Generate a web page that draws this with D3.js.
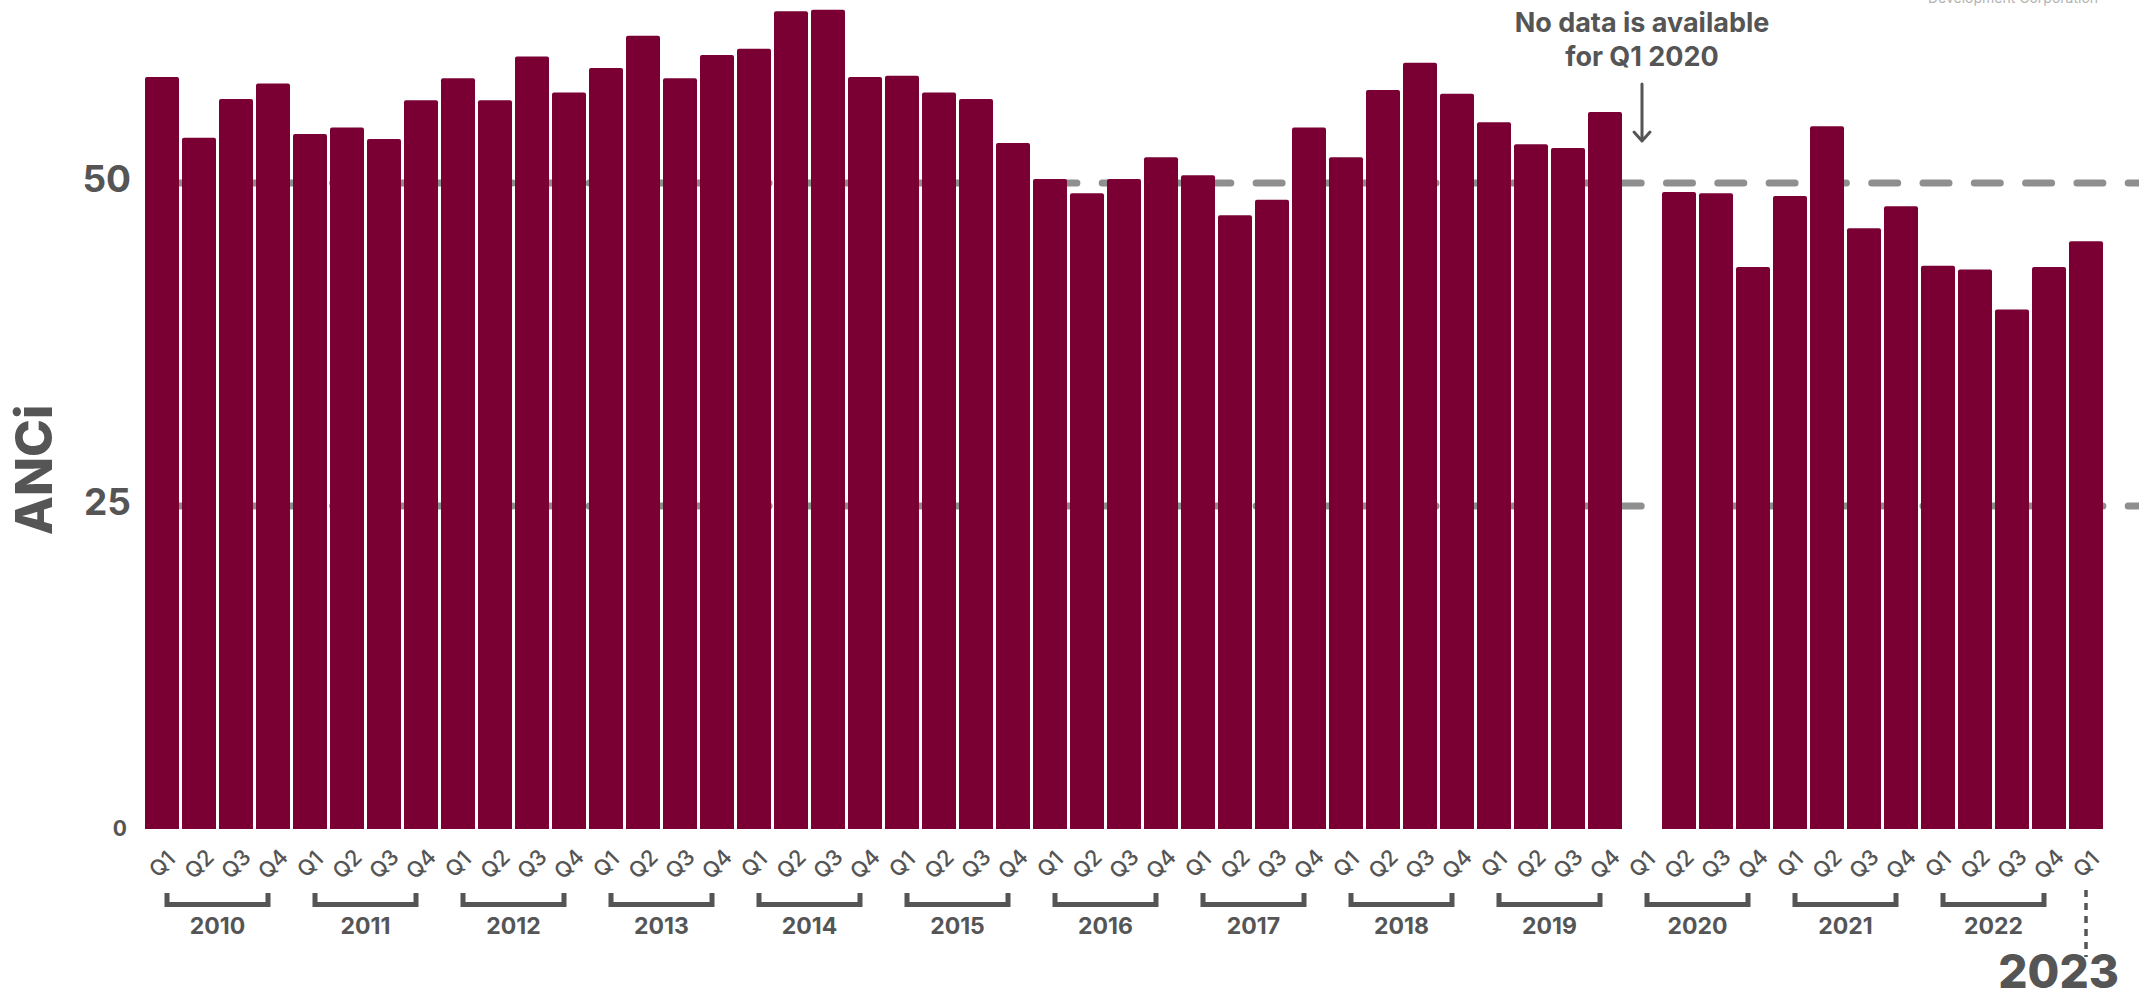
<!DOCTYPE html>
<html>
<head>
<meta charset="utf-8">
<script src="https://cdn.jsdelivr.net/npm/d3@7"></script>
<style>
  body { margin: 0; background: #fff; }
  svg { display: block; font-family: Inter, "Open Sans", sans-serif; }
</style>
</head>
<body>
<svg></svg>
<script>
const width = 2139;
const height = 1002;

// data
const years = [2010, 2011, 2012, 2013, 2014, 2015, 2016, 2017, 2018, 2019, 2020, 2021, 2022, 2023];
const quarters = ["Q1", "Q2", "Q3", "Q4"];
const values = [
    58.2, 53.5, 56.5, 57.7,   // 2010
    53.8, 54.3, 53.4, 56.4,   // 2011
    58.1, 56.4, 59.8, 57.0,   // 2012
    58.9, 61.4, 58.1, 59.9,   // 2013
    60.4, 63.3, 63.4, 58.2,   // 2014
    58.3, 57.0, 56.5, 53.1,   // 2015
    50.3, 49.2, 50.3, 52.0,   // 2016
    50.6, 47.5, 48.7, 54.3,   // 2017
    52.0, 57.2, 59.3, 56.9,   // 2018
    54.7, 53.0, 52.7, 55.5,   // 2019
    null, 49.3, 49.2, 43.5,   // 2020
    49.0, 54.4, 46.5, 48.2,   // 2021
    43.6, 43.3, 40.2, 43.5,   // 2022
    45.5                      // 2023
];
const yTicks = [0, 25, 50];
const gridValues = [25, 50];

const barColor = "#7a0034";
const textColor = "#555555";

// build rows year x quarter
let data = [];
years.forEach(y => quarters.forEach(q => data.push({ year: y, q: q, key: y + " " + q })));
data = data.slice(0, values.length).map((d, i) => ({ ...d, value: values[i] }));

let svg = d3.select("svg")
    .attr("width", width)
    .attr("height", height);

let scaleX = d3.scaleBand()
    .domain(data.map(d => d.key))
    .range([145, 2103])
    .paddingInner(3 / 37)
    .paddingOuter(0);

let scaleY = d3.scaleLinear()
    .domain([0, 50])
    .range([829, 183]);

const bw = scaleX.bandwidth();
const cx = key => scaleX(key) + bw / 2;

// dashed reference lines (behind bars)
svg.append("g")
    .selectAll("line")
    .data(gridValues)
    .enter()
    .append("line")
    .attr("x1", 150)
    .attr("x2", width + 10)
    .attr("y1", d => scaleY(d))
    .attr("y2", d => scaleY(d))
    .attr("stroke", "#8f8f8f")
    .attr("stroke-width", 7)
    .attr("stroke-linecap", "round")
    .attr("stroke-dasharray", "26 25.3")
    .attr("stroke-dashoffset", 22.5);

// bars
svg.append("g")
    .selectAll("path")
    .data(data.filter(d => d.value !== null))
    .enter()
    .append("path")
    .attr("d", d => {
        const x = scaleX(d.key), y = scaleY(d.value), b = scaleY(0), r = 2;
        return `M${x},${b}V${y + r}Q${x},${y} ${x + r},${y}H${x + bw - r}Q${x + bw},${y} ${x + bw},${y + r}V${b}Z`;
    })
    .attr("fill", barColor);

// y axis
let axisY = svg.append("g")
    .attr("transform", "translate(131, 0)")
    .call(d3.axisLeft(scaleY).tickValues(yTicks).tickSize(0).tickPadding(0));
axisY.select(".domain").remove();
axisY.selectAll("text")
    .attr("fill", textColor)
    .style("font-weight", 700)
    .style("font-size", d => d === 0 ? "21px" : "37px")
    .attr("dx", d => d === 0 ? -4 : 0)
    .attr("dy", d => d === 0 ? "0.3em" : "0.22em")
    .style("font-family", "Inter, sans-serif");

svg.append("text")
    .attr("transform", "translate(52, 470) rotate(-90)")
    .attr("text-anchor", "middle")
    .attr("fill", textColor)
    .style("font-size", "51px")
    .style("font-weight", 800)
    .text("ANCi");

// x axis: quarter labels
let axisX = svg.append("g")
    .attr("transform", `translate(0, ${scaleY(0)})`)
    .call(d3.axisBottom(scaleX).tickSize(0).tickFormat(k => k.split(" ")[1]));
axisX.select(".domain").remove();
axisX.selectAll("text")
    .attr("y", 0)
    .attr("dy", "0.35em")
    .attr("text-anchor", "middle")
    .attr("transform", "translate(0, 35) rotate(-45)")
    .attr("fill", textColor)
    .style("font-size", "22px")
    .style("font-weight", 500)
    .style("font-family", "Inter, sans-serif");

// year brackets
const fullYears = years.filter(y => data.filter(d => d.year === y).length === 4);
let yearG = svg.append("g");
yearG.selectAll("path")
    .data(fullYears)
    .enter()
    .append("path")
    .attr("d", y => {
        const x1 = cx(y + " Q1") + 5, x2 = cx(y + " Q4") - 5;
        return `M${x1},893V904.5H${x2}V893`;
    })
    .attr("fill", "none")
    .attr("stroke", textColor)
    .attr("stroke-width", 5);

yearG.selectAll("text")
    .data(fullYears)
    .enter()
    .append("text")
    .attr("x", y => (cx(y + " Q1") + cx(y + " Q4")) / 2)
    .attr("y", 934)
    .attr("text-anchor", "middle")
    .attr("fill", textColor)
    .style("font-size", "23px")
    .style("font-weight", 700)
    .text(y => y);

// last year marker
const lastKey = data[data.length - 1].key;
svg.append("line")
    .attr("x1", cx(lastKey))
    .attr("x2", cx(lastKey))
    .attr("y1", 890)
    .attr("y2", 957)
    .attr("stroke", textColor)
    .attr("stroke-width", 3.5)
    .attr("stroke-dasharray", "7 6");

svg.append("text")
    .attr("x", 2119)
    .attr("y", 988)
    .attr("text-anchor", "end")
    .attr("fill", textColor)
    .style("font-size", "46px")
    .style("font-weight", 800)
    .text(years[years.length - 1]);

// annotation for missing quarter
const missKey = data.find(d => d.value === null).key;
const ax = cx(missKey);
let note = svg.append("text")
    .attr("x", ax)
    .attr("text-anchor", "middle")
    .attr("fill", textColor)
    .style("font-size", "27px")
    .style("font-weight", 700);
note.append("tspan").attr("x", ax).attr("y", 32).text("No data is available");
note.append("tspan").attr("x", ax).attr("y", 66).text("for Q1 2020");

svg.append("path")
    .attr("d", `M${ax},84V141M${ax - 8},132L${ax},141L${ax + 8},132`)
    .attr("fill", "none")
    .attr("stroke", textColor)
    .attr("stroke-width", 3)
    .attr("stroke-linecap", "round")
    .attr("stroke-linejoin", "round");

// source credit, cut at the top edge
svg.append("text")
    .attr("x", 2013)
    .attr("y", 3)
    .attr("text-anchor", "middle")
    .attr("fill", "#b3b3b3")
    .style("font-size", "14px")
    .text("Development Corporation");
</script>
</body>
</html>
